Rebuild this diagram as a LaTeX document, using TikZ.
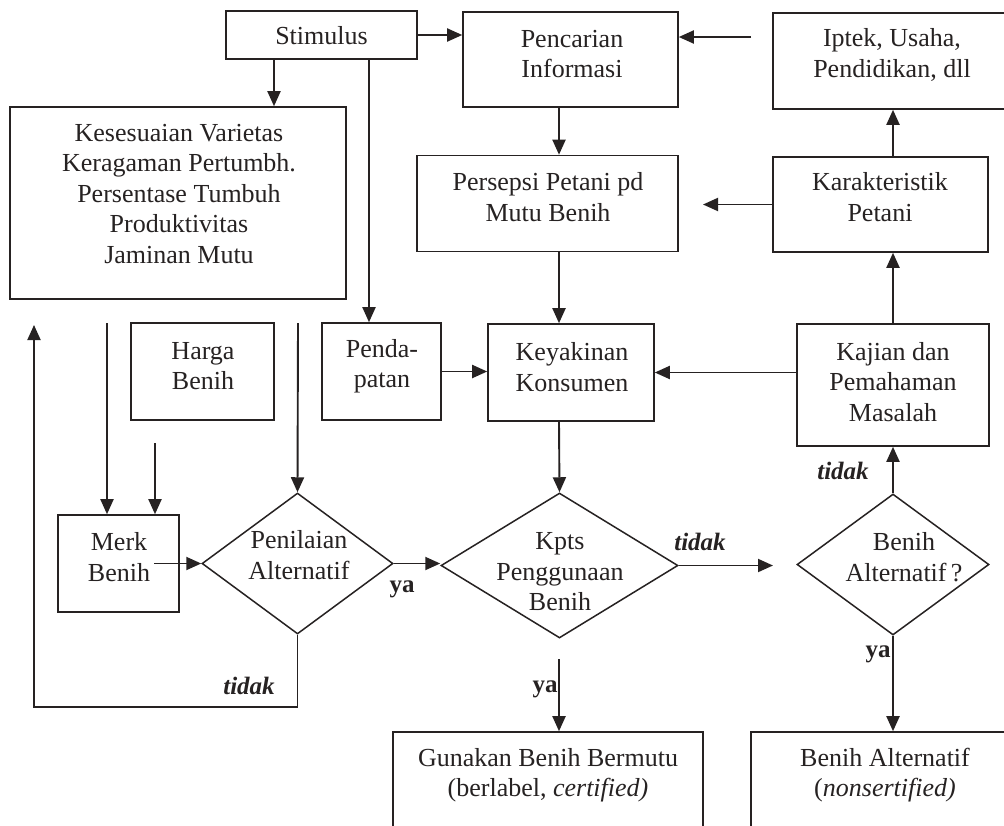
\documentclass[tikz,border=0pt]{standalone}
\usepackage{fontspec}
\setmainfont{Liberation Serif}
\usetikzlibrary{arrows.meta,shapes.geometric}
\definecolor{ink}{RGB}{38,34,34}
\begin{document}
\begin{tikzpicture}[x=1pt,y=-1pt,
  ln/.style={draw=ink, line width=1.9pt},
  arr/.style={ln, -{Triangle[length=15pt,width=13pt]}},
  bx/.style={draw=ink, line width=1.6pt, inner sep=0pt, rectangle},
  dm/.style={draw=ink, line width=1.5pt, diamond, inner sep=0pt},
  tx/.style={text=ink, align=center, font=\fontsize{26}{30.5}\selectfont, inner sep=0pt},
  lb/.style={text=ink, font=\fontsize{25}{28}\selectfont\bfseries, inner sep=0pt},
  lbi/.style={text=ink, font=\fontsize{25}{28}\selectfont\bfseries\itshape, inner sep=0pt}]
\useasboundingbox (0,0) rectangle (1004,825);
\clip (0,0) rectangle (1004,825);
\fill[white] (0,0) rectangle (1004,825);

% boxes
\node[bx, minimum width=191, minimum height=48] (stim) at (321.5,35) {};
\node[bx, minimum width=215, minimum height=95] (pen) at (570.5,59.5) {};
\node[bx, minimum width=267, minimum height=96] (ipt) at (906.5,61) {};
\node[bx, minimum width=336, minimum height=192] (kes) at (178,203) {};
\node[bx, minimum width=261, minimum height=96] (per) at (547.5,203.5) {};
\node[bx, minimum width=215, minimum height=95] (kar) at (880.5,204.5) {};
\node[bx, minimum width=143, minimum height=97] (har) at (202.5,371.5) {};
\node[bx, minimum width=119, minimum height=97] (pnd) at (381.5,371.5) {};
\node[bx, minimum width=166, minimum height=97] (key) at (571,372.5) {};
\node[bx, minimum width=192, minimum height=122] (kaj) at (893,385) {};
\node[bx, minimum width=121, minimum height=97] (merk) at (118.5,563.5) {};
\node[bx, minimum width=310, minimum height=136] (gun) at (548,800) {};
\node[bx, minimum width=289, minimum height=136] (baltb) at (895.5,800) {};

% diamonds
\node[dm, minimum width=191, minimum height=141] (pnl) at (297.5,563.5) {};
\node[dm, minimum width=237, minimum height=145] (kpts) at (559.5,565.5) {};
\node[dm, minimum width=192, minimum height=141] (dalt) at (893,564.5) {};

% texts
\node[tx] (stim-t) at (321.5,36) {Stimulus};
\node[tx] (pen-t) at (572,54) {Pencarian\\Informasi};
\node[tx] (ipt-t) at (892,55) {Iptek, Usaha,\\Pendidikan, dll};
\node[tx] (kes-t) at (179,194) {Kesesuaian Varietas\\Keragaman Pertumbh.\\Persentase Tumbuh\\Produktivitas\\Jaminan Mutu};
\node[tx] (per-t) at (548,197) {Persepsi Petani pd\\Mutu Benih};
\node[tx] (kar-t) at (880,197) {Karakteristik\\Petani};
\node[tx] (har-t) at (203,366) {Harga\\Benih};
\node[tx] (pnd-t) at (382,366) {Penda-\\patan};
\node[tx] (key-t) at (572,367) {Keyakinan\\Konsumen};
\node[tx] (kaj-t) at (893,382) {Kajian dan\\Pemahaman\\Masalah};
\node[tx] (merk-t) at (119,557) {Merk\\Benih};
\node[tx] (pnl-t) at (299,555) {Penilaian\\Alternatif};
\node[tx] (kpts-t) at (560,572) {Kpts\\Penggunaan\\Benih};
\node[tx] (dalt-t) at (904,557) {Benih\\Alternatif\,?};
\node[tx] (gun-t) at (548,775) {Gunakan Benih Bermutu\\(berlabel, \textit{certified)}};
\node[tx] (baltb-t) at (885,775) {Benih Alternatif\\(\textit{nonsertified)}};

% labels
\node[lb] (ya1) at (402,589) {ya};
\node[lbi] (td1) at (249,686) {tidak};
\node[lbi] (td2) at (700,542) {tidak};
\node[lbi] (td3) at (843,471) {tidak};
\node[lb] (ya2) at (545,689) {ya};
\node[lb] (ya3) at (878,654) {ya};

% helper coordinates
\coordinate (xS1) at (274,0);
\coordinate (xS2) at (369,0);
\coordinate (xK) at (559,0);
\coordinate (xR) at (893,0);
\coordinate (iptfree) at (751,37);
\coordinate (karfree) at (703,204.5);
\coordinate (kesA) at (107,323);
\coordinate (kesP) at (298,323);
\coordinate (harB) at (155,443);
\coordinate (merkS) at (154,563.5);
\coordinate (loopB) at (34,707);
\coordinate (loopT) at (34,325);
\coordinate (kptsfree) at (773,565.5);
\coordinate (kptsY) at (559,659);

% connectors
\draw[arr] (stim.east) -- (stim.east -| pen.west);
\draw[arr] (iptfree) -- (iptfree -| pen.east);
\draw[arr] (xS1 |- stim.south) -- (xS1 |- kes.north);
\draw[arr] (xS2 |- stim.south) -- (xS2 |- pnd.north);
\draw[arr] (xK |- pen.south) -- (xK |- per.north);
\draw[arr] (xK |- per.south) -- (xK |- key.north);
\draw[arr] (xK |- key.south) -- (kpts.north);
\draw[arr] (kar.west) -- (karfree);
\draw[arr] (xR |- kar.north) -- (xR |- ipt.south);
\draw[arr] (kaj.north) -- (kaj.north |- kar.south);
\draw[arr] (kaj.west |- key.east) -- (key.east);
\draw[arr] (pnd.east) -- (pnd.east -| key.west);
\draw[arr] (kesA) -- (kesA |- merk.north);
\draw[arr] (harB) -- (harB |- merk.north);
\draw[arr] (kesP) -- (pnl.north);
\draw[arr] (merkS) -- (pnl.west);
\draw[arr] (pnl.east) -- (pnl.east -| kpts.west);
\draw[arr] (pnl.south) -- (pnl.south |- loopB) -- (loopB) -- (loopT);
\draw[arr] (kpts.east) -- (kptsfree);
\draw[arr] (dalt.north) -- (dalt.north |- kaj.south);
\draw[arr] (dalt.south) -- (dalt.south |- baltb.north);
\draw[arr] (kptsY) -- (kptsY |- gun.north);
\end{tikzpicture}
\end{document}
